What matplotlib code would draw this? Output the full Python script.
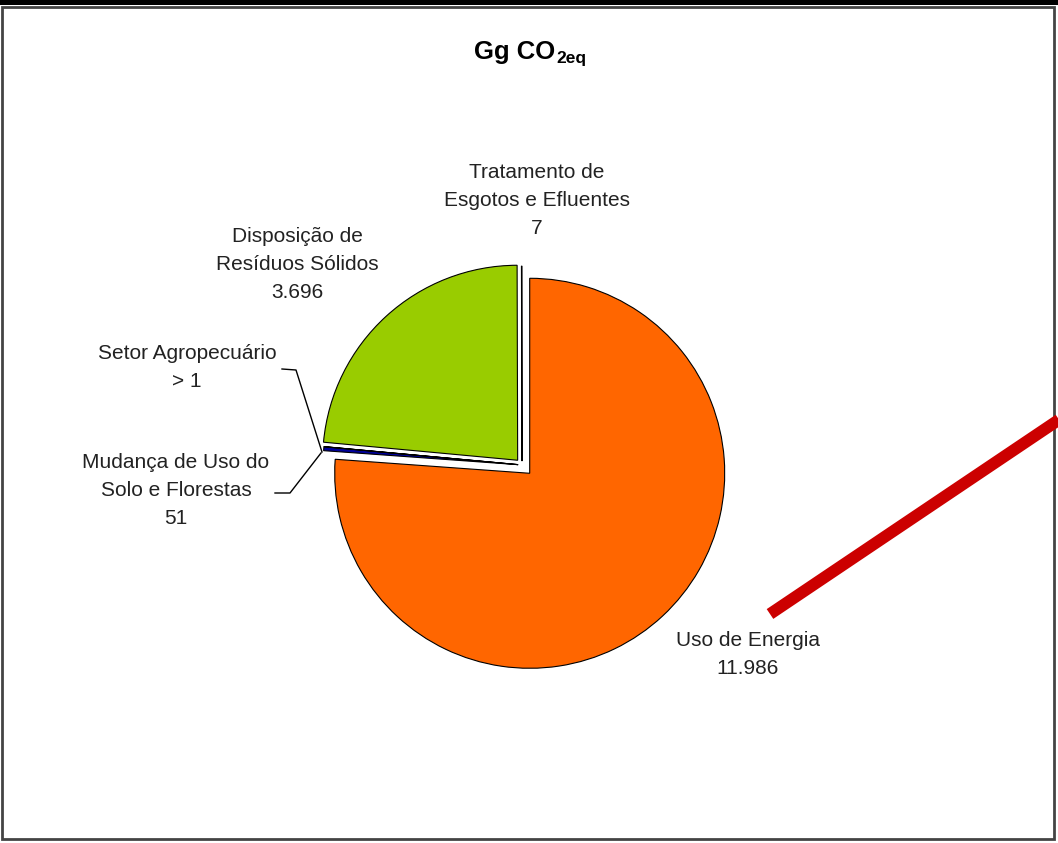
import matplotlib.pyplot as plt
from matplotlib.lines import Line2D
from matplotlib.patches import Rectangle

plt.rcParams['font.family'] = ['Liberation Sans', 'DejaVu Sans']

# data: Gg CO2eq by sector (clockwise from top)
sectors = ['Uso de Energia', 'Mudança de Uso do\nSolo e Florestas', 'Setor Agropecuário',
           'Disposição de\nResíduos Sólidos', 'Tratamento de\nEsgotos e Efluentes']
values = [11986, 51, 1, 3696, 7]
value_labels = ['11.986', '51', '> 1', '3.696', '7']
colors = ['#FF6600', '#000099', '#FFFFFF', '#99CC00', '#FFFFFF']
explode = [0.058, 0.02, 0.02, 0.033, 0.02]

W, H = 1058, 843
fig = plt.figure(figsize=(W / 100, H / 100), dpi=100)


def px(x, y):
    # pixel (from top-left) -> figure fraction
    return x / W, 1 - y / H


# pie axes: centre (522, 465) px, radius 195 px
cx, cy, R = 522, 465, 195
lim = 1.3
side = 2 * lim * R
ax = fig.add_axes([(cx - side / 2) / W, (H - cy - side / 2) / H, side / W, side / H])
ax.pie(values, colors=colors, explode=explode, startangle=90, counterclock=False,
       radius=1, wedgeprops=dict(edgecolor='black', linewidth=0.8))
ax.set_xlim(-lim, lim)
ax.set_ylim(-lim, lim)
ax.set_aspect('equal')
ax.axis('off')

# labels
fs = 15
txt_color = '#222222'
label_pos = {0: (748, 654), 1: (176, 491), 2: (187, 368), 3: (297, 265), 4: (537, 200)}
for i, (x, y) in label_pos.items():
    fig.text(*px(x, y), sectors[i] + '\n' + value_labels[i], ha='center', va='center',
             fontsize=fs, color=txt_color, linespacing=1.6)

# leader lines for the two tiny slices
lc = dict(color='black', linewidth=1.0)
fig.add_artist(Line2D([282 / W, 296 / W, 322 / W], [1 - 369 / H, 1 - 370 / H, 1 - 452 / H],
                      transform=fig.transFigure, **lc))
fig.add_artist(Line2D([275 / W, 290 / W, 321 / W], [1 - 493 / H, 1 - 493 / H, 1 - 453 / H],
                      transform=fig.transFigure, **lc))

# title
fig.text(*px(555, 52), 'Gg CO', ha='right', va='center', fontsize=18.5, fontweight='bold')
fig.text(*px(556, 59), '2eq', ha='left', va='center', fontsize=12.5, fontweight='bold')

# frame and top band
fig.add_artist(Rectangle(px(2, 839), 1052 / W, 832 / H, transform=fig.transFigure,
                         fill=False, edgecolor='#444444', linewidth=2))
fig.add_artist(Rectangle(px(0, 5), 1, 5 / H, transform=fig.transFigure,
                         facecolor='black', edgecolor='none'))

# red highlight stroke
fig.add_artist(Line2D([770 / W, 1060 / W], [1 - 614 / H, 1 - 419 / H], transform=fig.transFigure,
                      color='#CC0000', linewidth=8.5, solid_capstyle='butt'))

fig.savefig('out.png', dpi=100)
